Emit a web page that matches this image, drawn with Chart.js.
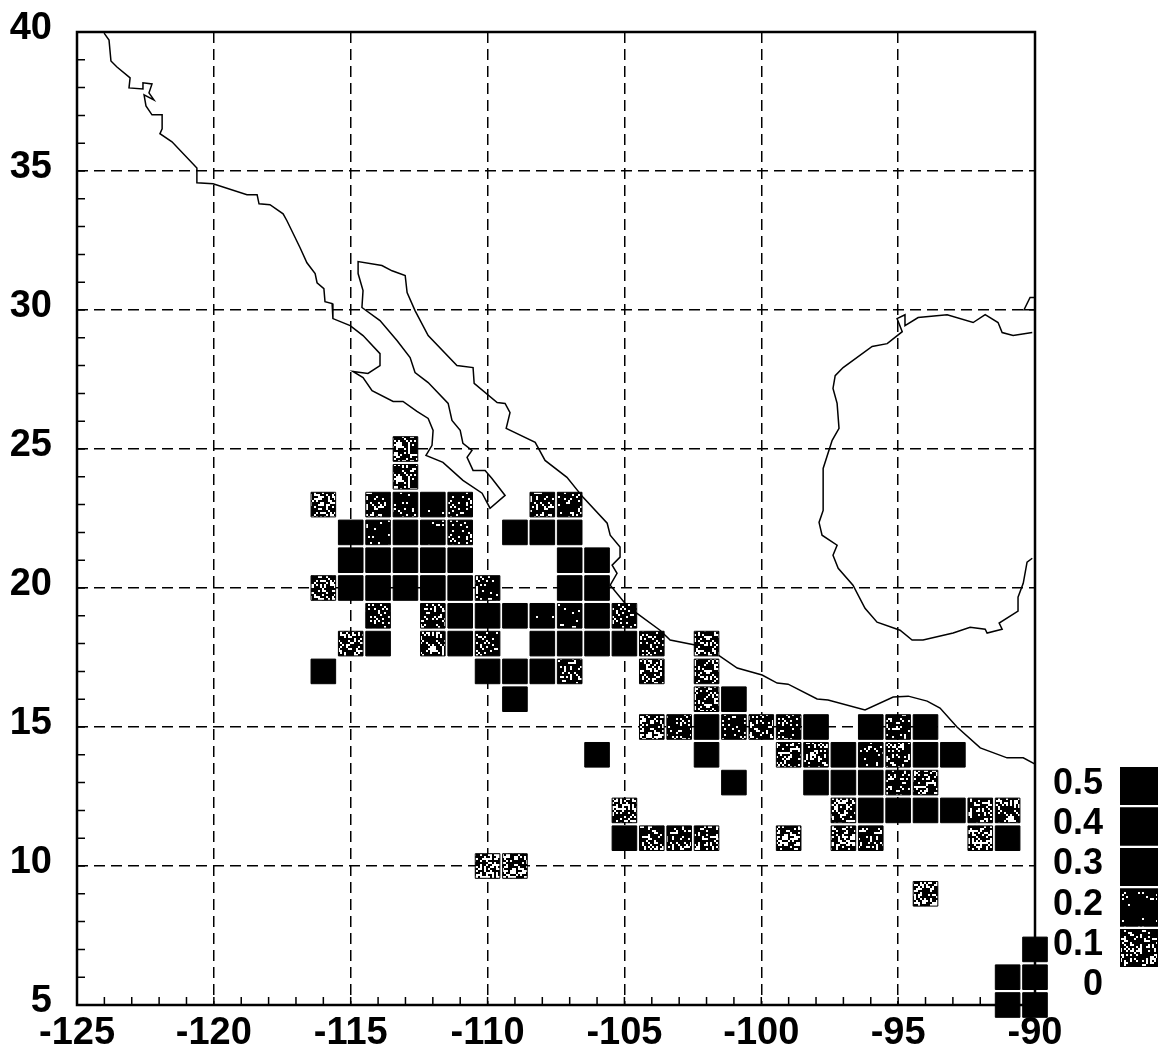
<!DOCTYPE html>
<html>
<head>
<meta charset="utf-8">
<title>Grid map</title>
<script src="https://cdn.jsdelivr.net/npm/chart.js@4/dist/chart.umd.min.js"></script>
<style>
  html, body { margin: 0; padding: 0; background: #fff; }
  canvas { display: block; }
</style>
</head>
<body>
<canvas id="mapChart" width="1166" height="1064"></canvas>
<script>
const lonTicks = [-125, -120, -115, -110, -105, -100, -95, -90];
const latTicks = [5, 10, 15, 20, 25, 30, 35, 40];

const legendLabels = ["0.5", "0.4", "0.3", "0.2", "0.1", "0"];
const legendValues = [0.5, 0.4, 0.3, 0.22, 0.1];

// one row per latitude
const cellLats = [
  25, 24,
  23, 23, 23, 23, 23, 23, 23,
  22, 22, 22, 22, 22, 22, 22, 22,
  21, 21, 21, 21, 21, 21, 21,
  20, 20, 20, 20, 20, 20, 20, 20, 20,
  19, 19, 19, 19, 19, 19, 19, 19, 19,
  18, 18, 18, 18, 18, 18, 18, 18, 18, 18, 18,
  17, 17, 17, 17, 17, 17, 17,
  16, 16, 16,
  15, 15, 15, 15, 15, 15, 15, 15, 15, 15,
  14, 14, 14, 14, 14, 14, 14, 14, 14,
  13, 13, 13, 13, 13, 13,
  12, 12, 12, 12, 12, 12, 12, 12,
  11, 11, 11, 11, 11, 11, 11, 11, 11,
  10, 10, 9, 7, 6, 6, 5, 5
];
const cellLons = [
  -113, -113,
  -116, -114, -113, -112, -111, -108, -107,
  -115, -114, -113, -112, -111, -109, -108, -107,
  -115, -114, -113, -112, -111, -107, -106,
  -116, -115, -114, -113, -112, -111, -110, -107, -106,
  -114, -112, -111, -110, -109, -108, -107, -106, -105,
  -115, -114, -112, -111, -110, -108, -107, -106, -105, -104, -102,
  -116, -110, -109, -108, -107, -104, -102,
  -109, -102, -101,
  -104, -103, -102, -101, -100, -99, -98, -96, -95, -94,
  -106, -102, -99, -98, -97, -96, -95, -94, -93,
  -101, -98, -97, -96, -95, -94,
  -105, -97, -96, -95, -94, -93, -92, -91,
  -105, -104, -103, -102, -99, -97, -96, -92, -91,
  -110, -109, -94, -90, -91, -90, -91, -90
];
const cellValues = [
  0.08, 0.08,
  0.05, 0.12, 0.2, 0.22, 0.15, 0.12, 0.18,
  0.3, 0.2, 0.3, 0.22, 0.15, 0.5, 0.5, 0.5,
  0.3, 0.5, 0.5, 0.5, 0.5, 0.5, 0.5,
  0.05, 0.5, 0.5, 0.5, 0.5, 0.5, 0.18, 0.5, 0.5,
  0.15, 0.12, 0.5, 0.5, 0.5, 0.23, 0.21, 0.5, 0.15,
  0.07, 0.5, 0.08, 0.5, 0.15, 0.3, 0.5, 0.5, 0.5, 0.15, 0.07,
  0.5, 0.5, 0.5, 0.5, 0.12, 0.07, 0.07,
  0.5, 0.07, 0.5,
  0.05, 0.15, 0.5, 0.15, 0.1, 0.15, 0.5, 0.5, 0.12, 0.5,
  0.5, 0.35, 0.06, 0.1, 0.5, 0.2, 0.1, 0.3, 0.5,
  0.5, 0.5, 0.5, 0.5, 0.12, 0.06,
  0.04, 0.06, 0.5, 0.5, 0.5, 0.5, 0.1, 0.08,
  0.4, 0.1, 0.12, 0.1, 0.05, 0.05, 0.12, 0.04, 0.5,
  0.04, 0.05, 0.02, 0.5, 0.5, 0.5, 0.5, 0.5
];

const coastLons = [
  -124.01, -123.83, -123.76, -123.54, -123.06, -123.10, -122.59, -122.59, -122.26, -122.37,
  -122.19, -122.55, -122.48, -122.26, -121.89, -121.89, -121.97, -121.53, -120.62, -120.62,
  -120.03, -118.79, -118.42, -118.35, -117.95, -117.47, -117.33, -116.85, -116.60, -116.30,
  -116.23, -115.98, -115.94, -115.68, -115.65, -115.02, -114.55, -113.93, -113.93, -114.37,
  -114.92, -114.55, -114.22, -113.45, -113.09, -112.58, -112.17, -111.99, -112.03, -112.25,
  -111.63, -110.90, -110.20, -109.91, -109.36, -109.84, -110.09, -110.53, -110.75, -110.57,
  -110.90, -111.00, -111.30, -111.44, -112.17, -112.65, -112.83, -113.31, -113.93, -114.59,
  -114.55, -114.73, -114.73, -113.86, -113.49, -113.01, -112.94, -112.65, -112.17, -111.12,
  -110.53, -110.49, -109.65, -109.36, -109.18, -109.32, -108.26, -107.90, -107.10, -106.51,
  -105.63, -105.52, -105.16, -105.16, -105.45, -105.27, -105.52, -104.98, -104.54, -103.70,
  -103.33, -102.42, -101.58, -100.88, -99.97, -99.42, -99.02, -97.96, -97.56, -96.21,
  -95.18, -94.63, -93.94, -93.47, -92.85, -92.00, -91.02, -90.43, -90.00
];
const coastLats = [
  39.96, 39.71, 38.96, 38.74, 38.35, 37.99, 37.95, 38.17, 38.13, 37.81,
  37.56, 37.74, 37.34, 37.02, 37.02, 36.52, 36.34, 36.05, 35.11, 34.58,
  34.54, 34.15, 34.15, 33.82, 33.79, 33.46, 33.21, 32.24, 31.70, 31.31,
  30.98, 30.77, 30.30, 30.23, 29.69, 29.44, 29.08, 28.43, 28.00, 27.72,
  27.79, 27.57, 27.10, 26.71, 26.71, 26.35, 26.10, 25.67, 25.13, 24.77,
  24.52, 23.87, 23.41, 22.87, 23.33, 23.94, 24.23, 24.23, 24.70, 24.95,
  25.20, 25.67, 26.03, 26.64, 27.39, 27.75, 28.29, 28.90, 29.62, 30.09,
  30.70, 31.31, 31.74, 31.60, 31.41, 31.24, 30.63, 29.98, 29.08, 28.00,
  27.93, 27.36, 26.67, 26.64, 26.31, 25.74, 25.24, 24.59, 23.98, 23.26,
  22.33, 21.90, 21.47, 21.11, 20.82, 20.53, 20.10, 19.45, 19.09, 18.48,
  18.13, 17.95, 17.59, 17.12, 16.87, 16.58, 16.54, 16.01, 15.97, 15.61,
  16.08, 16.11, 15.93, 15.68, 15.00, 14.25, 13.89, 13.89, 13.67
];

const gulfLons = [
  -90.10, -90.80, -91.20, -91.35, -91.82, -92.26, -93.21, -94.27, -94.75, -94.75,
  -95.04, -94.85, -95.40, -95.95, -97.01, -97.30, -97.38, -97.23, -97.16, -97.41,
  -97.74, -97.74, -97.89, -97.78, -97.23, -97.38, -97.19, -96.65, -96.21, -95.77,
  -94.93, -94.49, -94.09, -92.99, -92.37, -91.82, -91.75, -91.20, -91.31, -90.62,
  -90.62, -90.43, -90.29, -90.10
];
const gulfLats = [
  29.19, 29.08, 29.19, 29.55, 29.83, 29.55, 29.83, 29.73, 29.44, 29.83,
  29.69, 29.22, 28.79, 28.69, 27.93, 27.64, 27.18, 26.64, 25.74, 25.31,
  24.30, 22.79, 22.36, 21.90, 21.54, 21.18, 20.71, 20.10, 19.27, 18.77,
  18.48, 18.13, 18.13, 18.38, 18.59, 18.52, 18.38, 18.52, 18.74, 19.17,
  19.67, 20.17, 20.93, 21.07
];

const cornerLons = [-90.00, -90.18, -90.40, -90.00];
const cornerLats = [30.45, 30.45, 30.01, 30.01];

const FAMILY = "'Liberation Sans', Arial, sans-serif";

function toPoints(xs, ys) {
  return xs.map((x, i) => ({ x: x, y: ys[i] }));
}

// scanned look: black square with white flecks, more of them at low values
const fillCache = {};
function speckle(value) {
  const white = Math.max(0, 0.45 * (1 - value / 0.25));
  if (white === 0) return "#000";
  if (fillCache[value]) return fillCache[value];
  const tile = document.createElement("canvas");
  tile.width = tile.height = 34;
  const c = tile.getContext("2d");
  c.fillStyle = "#000";
  c.fillRect(0, 0, 34, 34);
  c.fillStyle = "#fff";
  let seed = Math.round(value * 1000) + 17;
  for (let a = 0; a < 17; a++) {
    for (let b = 0; b < 17; b++) {
      seed = (seed * 1103515245 + 12345) % 2147483648;
      if ((seed >> 8) % 1000 < white * 1000) c.fillRect(a * 2, b * 2, 2, 2);
    }
  }
  fillCache[value] = c.createPattern(tile, "repeat");
  return fillCache[value];
}

const framePlugin = {
  id: "frame",
  beforeDatasetsDraw(chart) {
    const { ctx, chartArea: a, scales } = chart;
    ctx.save();
    ctx.strokeStyle = "#000";
    ctx.lineWidth = 1.5;
    ctx.beginPath();
    for (let lon = -125; lon <= -90; lon++) {
      const x = scales.x.getPixelForValue(lon);
      ctx.moveTo(x, a.bottom);
      ctx.lineTo(x, a.bottom - 8);
    }
    for (let lat = 5; lat <= 40; lat++) {
      const y = scales.y.getPixelForValue(lat);
      ctx.moveTo(a.left, y);
      ctx.lineTo(a.left + 8, y);
    }
    ctx.stroke();
    ctx.lineWidth = 2.5;
    ctx.strokeRect(a.left, a.top, a.right - a.left, a.bottom - a.top);
    ctx.restore();
  },
};

const legendPlugin = {
  id: "sideLegend",
  afterDraw(chart) {
    const ctx = chart.ctx;
    ctx.save();
    legendValues.forEach((v, i) => {
      const top = 767 + i * 40.5;
      ctx.fillStyle = speckle(v);
      ctx.fillRect(1120, top, 38, 38);
      ctx.strokeStyle = "#000";
      ctx.lineWidth = 1;
      ctx.strokeRect(1120.5, top + 0.5, 37, 37);
    });
    ctx.fillStyle = "#000";
    ctx.font = "bold 36px " + FAMILY;
    ctx.textAlign = "right";
    ctx.textBaseline = "middle";
    legendLabels.forEach((t, i) => ctx.fillText(t, 1103, 784 + i * 40.2));
    ctx.restore();
  },
};

function initChart() {
  const ctx = document.getElementById("mapChart").getContext("2d");
  new Chart(ctx, {
    type: "scatter",
    data: {
      datasets: [
        {
          label: "cells",
          data: toPoints(cellLons, cellLats),
          pointStyle: "rect",
          pointRadius: 17.4,
          pointBackgroundColor: cellValues.map(speckle),
          pointBorderColor: "#000",
          pointBorderWidth: 1,
          showLine: false,
          clip: false,
          order: 1,
        },
        { label: "coast", data: toPoints(coastLons, coastLats), showLine: true, borderColor: "#000", borderWidth: 1.5, pointRadius: 0, order: 2 },
        { label: "gulf", data: toPoints(gulfLons, gulfLats), showLine: true, borderColor: "#000", borderWidth: 1.5, pointRadius: 0, order: 2 },
        { label: "corner", data: toPoints(cornerLons, cornerLats), showLine: true, borderColor: "#000", borderWidth: 1.5, pointRadius: 0, order: 2 },
      ],
    },
    options: {
      responsive: false,
      animation: false,
      layout: { padding: { top: 31, right: 131, left: 0, bottom: 0 } },
      plugins: { legend: { display: false }, tooltip: { enabled: false } },
      scales: {
        x: {
          type: "linear",
          min: lonTicks[0],
          max: lonTicks[lonTicks.length - 1],
          afterBuildTicks: (s) => { s.ticks = lonTicks.map((v) => ({ value: v })); },
          afterFit: (s) => { s.height = 59; },
          grid: { color: "#000", lineWidth: 1.5, drawTicks: false },
          border: { display: false, dash: [11, 6] },
          ticks: { color: "#000", font: { family: FAMILY, size: 38, weight: "bold" }, padding: 6, maxRotation: 0, autoSkip: false },
        },
        y: {
          type: "linear",
          min: latTicks[0],
          max: latTicks[latTicks.length - 1],
          afterBuildTicks: (s) => { s.ticks = latTicks.map((v) => ({ value: v })); },
          afterFit: (s) => { s.width = 77; },
          grid: { color: "#000", lineWidth: 1.5, drawTicks: false },
          border: { display: false, dash: [11, 6] },
          // blank second line lifts each label a few px above its gridline, as in the scan
          ticks: { color: "#000", font: { family: FAMILY, size: 38, weight: "bold", lineHeight: "7px" }, padding: 25, autoSkip: false, callback: (v) => [String(v), ""] },
        },
      },
    },
    plugins: [framePlugin, legendPlugin],
  });
}

window.onload = initChart;
</script>
</body>
</html>
